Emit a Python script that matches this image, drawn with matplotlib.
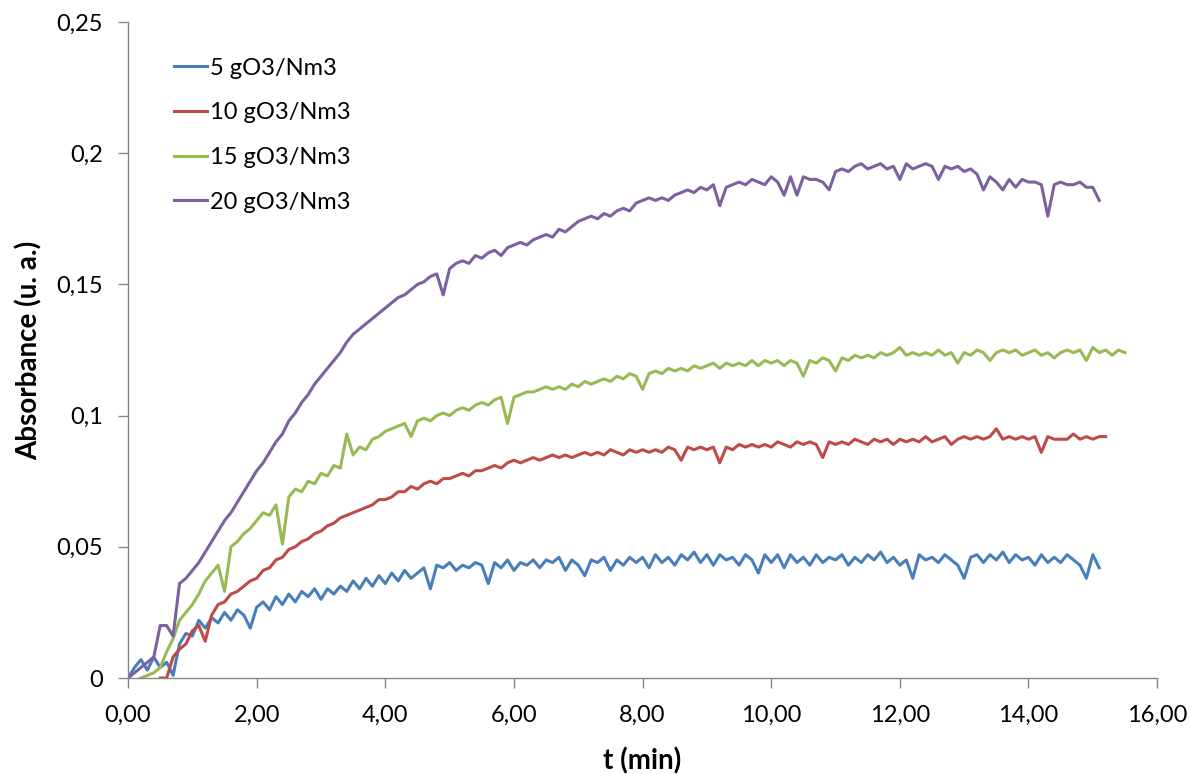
import numpy as np
import matplotlib
matplotlib.use("Agg")
import matplotlib.pyplot as plt
from matplotlib.ticker import FuncFormatter

# sampling step of the readings (min)
T_STEP = 0.1

labels = ['5 gO3/Nm3', '10 gO3/Nm3', '15 gO3/Nm3', '20 gO3/Nm3']
colors = ['#4A7EBB', '#BE4B48', '#98B954', '#7D60A0']
start_times = [0.0, 0.5, 0.2, 0.0]

# 5 gO3/Nm3, t = 0.0 .. 15.1
abs_5 = [
    0.000, 0.004, 0.007, 0.003, 0.008, 0.004, 0.006, 0.001, 0.013, 0.017,
    0.016, 0.022, 0.019, 0.023, 0.021, 0.025, 0.022, 0.026, 0.024, 0.019,
    0.027, 0.029, 0.026, 0.031, 0.028, 0.032, 0.029, 0.033, 0.031, 0.034,
    0.030, 0.034, 0.032, 0.035, 0.033, 0.037, 0.034, 0.038, 0.035, 0.039,
    0.036, 0.040, 0.037, 0.041, 0.038, 0.040, 0.042, 0.034, 0.043, 0.042,
    0.044, 0.041, 0.043, 0.042, 0.044, 0.043, 0.036, 0.044, 0.042, 0.045,
    0.041, 0.044, 0.043, 0.045, 0.042, 0.045, 0.044, 0.046, 0.041, 0.045,
    0.043, 0.039, 0.045, 0.044, 0.046, 0.041, 0.045, 0.043, 0.046, 0.044,
    0.046, 0.042, 0.047, 0.044, 0.046, 0.043, 0.047, 0.045, 0.048, 0.044,
    0.047, 0.043, 0.047, 0.045, 0.046, 0.043, 0.047, 0.045, 0.040, 0.047,
    0.044, 0.047, 0.042, 0.047, 0.044, 0.046, 0.043, 0.047, 0.044, 0.046,
    0.045, 0.047, 0.043, 0.046, 0.044, 0.047, 0.045, 0.048, 0.044, 0.046,
    0.043, 0.045, 0.038, 0.047, 0.045, 0.046, 0.044, 0.047, 0.045, 0.043,
    0.038, 0.046, 0.047, 0.044, 0.047, 0.045, 0.048, 0.044, 0.047, 0.045,
    0.046, 0.043, 0.047, 0.044, 0.046, 0.044, 0.047, 0.045, 0.043, 0.038,
    0.047, 0.042,
]

# 10 gO3/Nm3, t = 0.5 .. 15.2
abs_10 = [
    0.000, 0.000, 0.008, 0.011, 0.013, 0.018, 0.020, 0.014, 0.024, 0.028,
    0.029, 0.032, 0.033, 0.035, 0.037, 0.038, 0.041, 0.042, 0.045, 0.046,
    0.049, 0.050, 0.052, 0.053, 0.055, 0.056, 0.058, 0.059, 0.061, 0.062,
    0.063, 0.064, 0.065, 0.066, 0.068, 0.068, 0.069, 0.071, 0.071, 0.073,
    0.072, 0.074, 0.075, 0.074, 0.076, 0.076, 0.077, 0.078, 0.077, 0.079,
    0.079, 0.080, 0.081, 0.080, 0.082, 0.083, 0.082, 0.083, 0.084, 0.083,
    0.084, 0.085, 0.084, 0.085, 0.084, 0.085, 0.086, 0.085, 0.086, 0.085,
    0.087, 0.086, 0.085, 0.087, 0.086, 0.087, 0.086, 0.087, 0.086, 0.088,
    0.087, 0.083, 0.088, 0.087, 0.088, 0.087, 0.088, 0.082, 0.088, 0.087,
    0.089, 0.088, 0.089, 0.088, 0.089, 0.088, 0.090, 0.089, 0.088, 0.090,
    0.089, 0.090, 0.089, 0.084, 0.090, 0.089, 0.090, 0.089, 0.091, 0.090,
    0.089, 0.091, 0.090, 0.091, 0.089, 0.091, 0.090, 0.091, 0.090, 0.092,
    0.090, 0.091, 0.092, 0.089, 0.091, 0.092, 0.091, 0.092, 0.091, 0.092,
    0.095, 0.091, 0.092, 0.091, 0.092, 0.091, 0.092, 0.086, 0.092, 0.091,
    0.091, 0.091, 0.093, 0.091, 0.092, 0.091, 0.092, 0.092,
]

# 15 gO3/Nm3, t = 0.2 .. 15.5
abs_15 = [
    0.000, 0.001, 0.002, 0.004, 0.010, 0.015, 0.022, 0.025, 0.028, 0.032,
    0.037, 0.040, 0.043, 0.033, 0.050, 0.052, 0.055, 0.057, 0.060, 0.063,
    0.062, 0.066, 0.051, 0.069, 0.072, 0.071, 0.075, 0.074, 0.078, 0.077,
    0.081, 0.080, 0.093, 0.085, 0.088, 0.087, 0.091, 0.092, 0.094, 0.095,
    0.096, 0.097, 0.092, 0.098, 0.099, 0.098, 0.100, 0.101, 0.100, 0.102,
    0.103, 0.102, 0.104, 0.105, 0.104, 0.106, 0.107, 0.097, 0.107, 0.108,
    0.109, 0.109, 0.110, 0.111, 0.110, 0.111, 0.110, 0.112, 0.111, 0.113,
    0.112, 0.113, 0.114, 0.113, 0.115, 0.114, 0.116, 0.115, 0.110, 0.116,
    0.117, 0.116, 0.118, 0.117, 0.118, 0.117, 0.119, 0.118, 0.119, 0.120,
    0.118, 0.120, 0.119, 0.120, 0.119, 0.121, 0.119, 0.121, 0.120, 0.121,
    0.119, 0.121, 0.120, 0.115, 0.121, 0.120, 0.122, 0.121, 0.117, 0.122,
    0.121, 0.123, 0.122, 0.123, 0.122, 0.124, 0.123, 0.124, 0.126, 0.123,
    0.124, 0.123, 0.124, 0.123, 0.125, 0.123, 0.124, 0.120, 0.124, 0.123,
    0.125, 0.124, 0.121, 0.124, 0.125, 0.124, 0.125, 0.123, 0.124, 0.125,
    0.123, 0.124, 0.122, 0.124, 0.125, 0.124, 0.125, 0.121, 0.126, 0.124,
    0.125, 0.123, 0.125, 0.124,
]

# 20 gO3/Nm3, t = 0.0 .. 15.1
abs_20 = [
    0.000, 0.002, 0.004, 0.006, 0.008, 0.020, 0.020, 0.016, 0.036, 0.038,
    0.041, 0.044, 0.048, 0.052, 0.056, 0.060, 0.063, 0.067, 0.071, 0.075,
    0.079, 0.082, 0.086, 0.090, 0.093, 0.098, 0.101, 0.105, 0.108, 0.112,
    0.115, 0.118, 0.121, 0.124, 0.128, 0.131, 0.133, 0.135, 0.137, 0.139,
    0.141, 0.143, 0.145, 0.146, 0.148, 0.150, 0.151, 0.153, 0.154, 0.146,
    0.156, 0.158, 0.159, 0.158, 0.161, 0.160, 0.162, 0.163, 0.161, 0.164,
    0.165, 0.166, 0.165, 0.167, 0.168, 0.169, 0.168, 0.171, 0.170, 0.172,
    0.174, 0.175, 0.176, 0.175, 0.177, 0.176, 0.178, 0.179, 0.178, 0.181,
    0.182, 0.183, 0.182, 0.183, 0.182, 0.184, 0.185, 0.186, 0.185, 0.187,
    0.186, 0.188, 0.180, 0.187, 0.188, 0.189, 0.188, 0.190, 0.189, 0.188,
    0.191, 0.189, 0.184, 0.191, 0.184, 0.191, 0.190, 0.190, 0.189, 0.186,
    0.193, 0.194, 0.193, 0.195, 0.196, 0.194, 0.195, 0.196, 0.194, 0.195,
    0.190, 0.196, 0.194, 0.195, 0.196, 0.195, 0.190, 0.195, 0.194, 0.195,
    0.193, 0.194, 0.192, 0.186, 0.191, 0.189, 0.186, 0.190, 0.187, 0.190,
    0.189, 0.189, 0.188, 0.176, 0.188, 0.189, 0.188, 0.188, 0.189, 0.187,
    0.187, 0.182,
]

x_ticks = [0, 2, 4, 6, 8, 10, 12, 14, 16]
y_ticks = [0, 0.05, 0.1, 0.15, 0.2, 0.25]


def comma(fmt):
    return FuncFormatter(lambda v, pos: fmt(v).replace('.', ','))


def main():
    plt.rcParams['font.family'] = ['Lato', 'DejaVu Sans']
    fig = plt.figure(figsize=(11.89, 7.74), dpi=100)
    ax = fig.add_axes([0.1077, 0.124, 0.8655, 0.8476])

    series = [abs_5, abs_10, abs_15, abs_20]
    for vals, t0, lab, col in zip(series, start_times, labels, colors):
        t = t0 + T_STEP * np.arange(len(vals))
        ax.plot(t, vals, color=col, lw=2.2, label=lab, solid_joinstyle='round')

    ax.set_xlim(0, 16)
    ax.set_ylim(0, 0.25)
    ax.set_xticks(x_ticks)
    ax.set_yticks(y_ticks)
    ax.xaxis.set_major_formatter(comma(lambda v: f'{v:.2f}'))
    ax.yaxis.set_major_formatter(comma(lambda v: f'{v:g}'))

    for s in ['top', 'right']:
        ax.spines[s].set_visible(False)
    for s in ['left', 'bottom']:
        ax.spines[s].set_color('#868686')
        ax.spines[s].set_linewidth(1.0)
    ax.tick_params(axis='both', direction='out', length=7, width=1.0,
                   color='#868686', labelsize=17, labelcolor='black')
    ax.tick_params(axis='x', pad=12)
    ax.tick_params(axis='y', pad=11)

    ax.set_xlabel('t (min)', fontsize=20, fontweight='bold', labelpad=16)
    ax.set_ylabel('Absorbance (u. a.)', fontsize=20, fontweight='bold', labelpad=10)

    ax.legend(loc='upper left', bbox_to_anchor=(0.035, 0.960), frameon=False,
              fontsize=17, handlelength=1.4, handletextpad=0.15, labelspacing=1.0,
              borderaxespad=0)

    fig.savefig('out.png', dpi=100)


if __name__ == '__main__':
    main()
